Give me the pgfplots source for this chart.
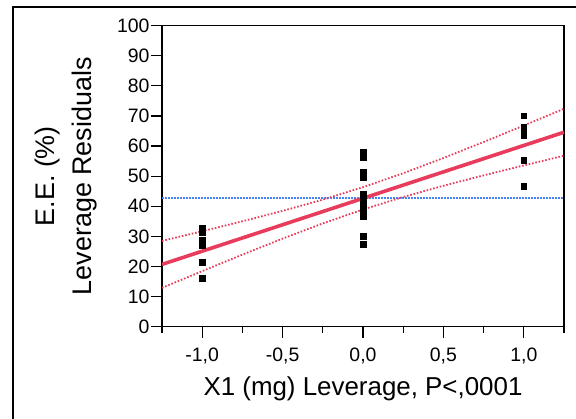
\documentclass[border=0pt]{standalone}
\usepackage{pgfplots}
\pgfplotsset{compat=1.18}
\usepackage{fontspec}
\setmainfont{Liberation Sans}
\definecolor{fitred}{RGB}{232,60,92}
\definecolor{meanblue}{RGB}{70,130,240}

\begin{document}
\begin{tikzpicture}
\path[use as bounding box] (0,0) rectangle (576bp,419bp);
\draw[line width=1.2bp] (13bp,0) -- (13bp,412bp) -- (576bp,412bp);
\begin{axis}[
    at={(162bp,92.3bp)}, anchor=south west,
    scale only axis, width=402bp, height=301bp,
    xmin=-1.25, xmax=1.25, ymin=0, ymax=100,
    axis line style={line width=1.4bp},
    xtick={-1,-0.5,0,0.5,1},
    xticklabels={{-1,0},{-0,5},{0,0},{0,5},{1,0}},
    minor xtick={-1.25,-0.75,-0.25,0.25,0.75,1.25},
    ytick={0,10,...,100},
    tick align=outside, tick pos=left,
    major tick length=11bp, minor tick length=6bp,
    tick style={black, line width=1.2bp},
    /pgf/number format/assume math mode=true,
    ticklabel style={font=\fontsize{19.5}{19.5}\selectfont},
    yticklabel style={xshift=2bp},
    xticklabel style={yshift=-7bp},
    xlabel={X1 (mg) Leverage, P<,0001},
    ylabel={E.E. (\%)\\Leverage Residuals},
    xlabel style={font=\fontsize{26}{26}\selectfont, at={(axis description cs:0.5,0)}, anchor=center, yshift=-62bp},
    ylabel style={font=\fontsize{27}{38}\selectfont, align=center, at={(axis description cs:0,0.5)}, anchor=center, yshift=96bp},
    clip=true,
]
% mean line
\addplot[meanblue, line width=1.8bp, dash pattern=on 1.6bp off 1.4bp] coordinates {(-1.25,42.65) (1.25,42.65)};
% confidence bands
\addplot[fitred, line width=1.8bp, dash pattern=on 1.6bp off 1.8bp] coordinates {
(-1.25,28.50) (-1,31.72) (-0.75,35.02) (-0.5,38.48) (-0.25,42.21) (0,46.35)
(0.25,50.99) (0.5,56.04) (0.75,61.36) (1,66.84) (1.25,72.40)};
\addplot[fitred, line width=1.8bp, dash pattern=on 1.6bp off 1.8bp] coordinates {
(-1.25,12.90) (-1,18.46) (-0.75,23.94) (-0.5,29.26) (-0.25,34.31) (0,38.95)
(0.25,43.09) (0.5,46.82) (0.75,50.28) (1,53.58) (1.25,56.80)};
% fit line
\addplot[fitred, line width=3.6bp] coordinates {(-1.25,20.70) (1.25,64.60)};
% data points
\addplot[only marks, mark=square*, mark size=2.8bp, black] coordinates {
(-1,32.7) (-1,31.3) (-1,28.8) (-1,26.9) (-1,21.4) (-1,16.1)
(0,58.1) (0,56.1) (0,51.5) (0,49.5) (0,44.0) (0,42.7) (0,41.5) (0,40.2)
(0,38.4) (0,36.8) (0,30.1) (0,27.4)
(1,70.1) (1,66.4) (1,65.3) (1,63.5) (1,55.4) (1,46.7)};
\end{axis}
\end{tikzpicture}
\end{document}
